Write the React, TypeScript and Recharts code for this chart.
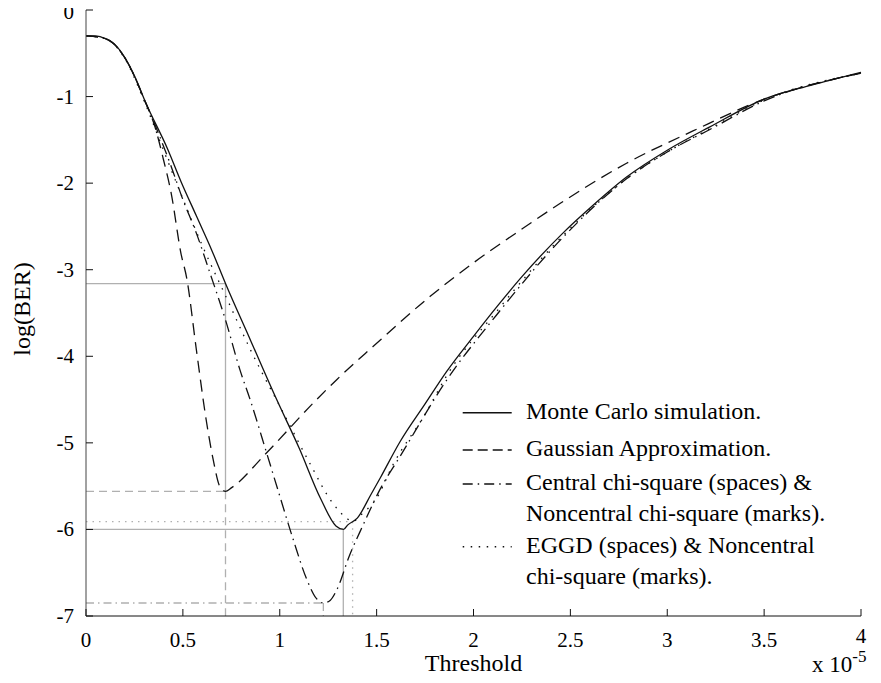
import { LineChart, Line, XAxis, YAxis, ReferenceLine, Legend } from "recharts";

const FONT = '"Liberation Serif", "Times New Roman", serif';
const INK = "#111";
const GUIDE = "#b0b0b0";

const xTicks = [0, 0.5, 1, 1.5, 2, 2.5, 3, 3.5, 4];
const yTicks = [0, -1, -2, -3, -4, -5, -6, -7];

// Monte Carlo simulation
const monteX = [0, 0.05, 0.1, 0.15, 0.2, 0.25, 0.31, 0.42, 0.49, 0.57, 0.65, 0.72, 0.85, 0.98, 1.1, 1.21, 1.29, 1.33, 1.35, 1.4, 1.47, 1.52, 1.62, 1.75, 1.86, 2.0, 2.12, 2.25, 2.46, 2.62, 2.79, 3.0, 3.22, 3.5, 3.74, 4.0];
const monteY = [-0.3, -0.3, -0.33, -0.4, -0.55, -0.76, -1.08, -1.6, -1.98, -2.38, -2.78, -3.16, -3.82, -4.48, -5.06, -5.64, -5.96, -6.0, -5.95, -5.87, -5.6, -5.4, -4.99, -4.55, -4.18, -3.77, -3.43, -3.08, -2.58, -2.25, -1.93, -1.62, -1.35, -1.03, -0.87, -0.72];

// Gaussian approximation
const gaussX = [0, 0.1, 0.2, 0.3, 0.356, 0.4, 0.44, 0.49, 0.52, 0.57, 0.62, 0.657, 0.69, 0.72, 0.75, 0.93, 1.19, 1.294, 1.48, 1.775, 2.0, 2.25, 2.45, 2.79, 3.13, 3.5, 4.0];
const gaussY = [-0.3, -0.33, -0.55, -1.03, -1.35, -1.73, -2.12, -2.81, -3.1, -3.93, -4.73, -5.2, -5.5, -5.56, -5.52, -5.12, -4.5, -4.27, -3.89, -3.31, -2.92, -2.53, -2.23, -1.77, -1.4, -1.03, -0.73];

// central / noncentral chi-square
const chiX = [0, 0.1, 0.2, 0.31, 0.44, 0.5, 0.57, 0.64, 0.72, 0.795, 0.85, 0.93, 0.99, 1.07, 1.14, 1.19, 1.225, 1.26, 1.294, 1.36, 1.43, 1.517, 1.62, 1.86, 2.12, 2.46, 2.79, 3.0, 3.22, 3.5, 4.0];
const chiY = [-0.3, -0.33, -0.55, -1.08, -1.81, -2.19, -2.58, -3.04, -3.58, -4.16, -4.52, -5.1, -5.54, -6.12, -6.58, -6.8, -6.85, -6.82, -6.7, -6.3, -5.95, -5.54, -5.16, -4.28, -3.52, -2.63, -1.95, -1.64, -1.38, -1.05, -0.73];

// EGGD / noncentral chi-square
const eggdX = [0, 0.1, 0.2, 0.3, 0.4, 0.5, 0.6, 0.72, 0.85, 1.02, 1.156, 1.268, 1.345, 1.376, 1.42, 1.5, 1.585, 1.75, 1.86, 2.12, 2.46, 2.79, 3.0, 3.22, 3.5, 4.0];
const eggdY = [-0.3, -0.33, -0.56, -1.05, -1.62, -2.18, -2.72, -3.3, -3.93, -4.66, -5.24, -5.68, -5.87, -5.91, -5.83, -5.64, -5.25, -4.67, -4.23, -3.48, -2.61, -1.95, -1.64, -1.37, -1.04, -0.73];

// grey guides: optimum threshold / minimum log(BER) of each curve
const guideX = [0.72, 1.328, 0.72, 1.225, 1.376];
const guideY = [-3.16, -6.0, -5.56, -6.85, -5.91];
const guideFloor = [-5.56, -7, -7, -7, -7];
const guideDash = [undefined, undefined, "8 5", "8 4 1.5 4", "1.5 5"];

const legendLines = [
  ["Monte Carlo simulation."],
  ["Gaussian Approximation."],
  ["Central chi-square (spaces) &", "Noncentral chi-square (marks)."],
  ["EGGD (spaces) & Noncentral", "chi-square (marks)."],
];
const curveDash = [undefined, "12 7", "12 5 1.5 5", "1.5 7"];
const legendDash = [undefined, "10 5", "10 5 1.5 5", "1.5 6.5"];

const zip = (xs: number[], ys: number[]) => xs.map((x, i) => ({ x, y: ys[i] }));

const series = [zip(monteX, monteY), zip(gaussX, gaussY), zip(chiX, chiY), zip(eggdX, eggdY)];

const BottomTick = (props: any) => {
  const { x, y, payload } = props;
  const lift = payload.value === 4 ? 4 : 0;
  return (
    <g>
      <line x1={x} y1={y} x2={x} y2={y - 7} stroke={INK} />
      <text x={x} y={y + 31 - lift} textAnchor="middle" fontSize={21} fontFamily={FONT} fill="#000">
        {payload.value}
      </text>
    </g>
  );
};

const TopTick = (props: any) => {
  const { x, y } = props;
  return <line x1={x} y1={y} x2={x} y2={y + 7} stroke={INK} />;
};

const LeftTick = (props: any) => {
  const { x, y, payload } = props;
  // keep the top label inside the picture
  const drop = payload.value === 0 ? 2 : 0;
  return (
    <g>
      <line x1={x} y1={y} x2={x + 7} y2={y} stroke={INK} />
      <text x={x - 12} y={y + 7 + drop} textAnchor="end" fontSize={21} fontFamily={FONT} fill="#000">
        {payload.value}
      </text>
    </g>
  );
};

const RightTick = (props: any) => {
  const { x, y } = props;
  return <line x1={x} y1={y} x2={x - 7} y2={y} stroke={INK} />;
};

const LegendBox = () => {
  const lineY = [17.7, 55, 89, 151.7];
  return (
    <svg width={420} height={200} style={{ display: "block" }}>
      {legendLines.map((lines, i) => (
        <g key={i}>
          <line
            x1={7.7}
            x2={56.7}
            y1={lineY[i]}
            y2={lineY[i]}
            stroke={INK}
            strokeWidth={1.5}
            strokeDasharray={legendDash[i]}
          />
          {lines.map((t, j) => (
            <text key={j} x={71} y={lineY[i] + 6 + j * 31} fontSize={24} fontFamily={FONT} fill="#000">
              {t}
            </text>
          ))}
        </g>
      ))}
    </svg>
  );
};

function App() {
  return (
    <div style={{ margin: "-8px 0 -8px -8px" }}>
      <LineChart
        width={873}
        height={683}
        margin={{ top: 10, right: 12, bottom: 0, left: 0 }}
        style={{ overflow: "visible" }}
      >
        <XAxis
          dataKey="x"
          type="number"
          domain={[0, 4]}
          ticks={xTicks}
          interval={0}
          height={67}
          tickSize={0}
          tickMargin={0}
          tickLine={false}
          tick={<BottomTick />}
          axisLine={{ stroke: INK }}
          label={{
            value: "Threshold",
            content: (p: any) => {
              const { x, y, width } = p.viewBox;
              return (
                <g fontFamily={FONT} fill="#000">
                  <text x={x + width / 2} y={y + 55} textAnchor="middle" fontSize={24}>
                    Threshold
                  </text>
                  <text x={812} y={y + 56} fontSize={23}>
                    x 10
                    <tspan dy={-10} fontSize={17}>-5</tspan>
                  </text>
                </g>
              );
            },
          }}
        />
        <XAxis
          xAxisId="top"
          orientation="top"
          type="number"
          domain={[0, 4]}
          ticks={xTicks}
          interval={0}
          height={0}
          tickSize={0}
          tickMargin={0}
          tickLine={false}
          tick={<TopTick />}
          axisLine={{ stroke: INK }}
        />
        <YAxis
          type="number"
          domain={[-7, 0]}
          ticks={yTicks}
          interval={0}
          width={86}
          tickSize={0}
          tickMargin={0}
          tickLine={false}
          tick={<LeftTick />}
          axisLine={{ stroke: "#444" }}
          label={{
            value: "log(BER)",
            content: (p: any) => {
              const { y, height } = p.viewBox;
              const cy = y + height / 2 - 4;
              return (
                <text
                  x={30}
                  y={cy}
                  transform={`rotate(-90 30 ${cy})`}
                  textAnchor="middle"
                  fontSize={24}
                  fontFamily={FONT}
                  fill="#000"
                >
                  log(BER)
                </text>
              );
            },
          }}
        />
        <YAxis
          yAxisId="right"
          orientation="right"
          type="number"
          domain={[-7, 0]}
          ticks={yTicks}
          interval={0}
          width={0}
          tickSize={0}
          tickMargin={0}
          tickLine={false}
          tick={<RightTick />}
          axisLine={{ stroke: INK }}
        />

        {guideX.map((gx, i) => (
          <ReferenceLine
            key={`h${i}`}
            segment={[
              { x: 0, y: guideY[i] },
              { x: gx, y: guideY[i] },
            ]}
            stroke={GUIDE}
            strokeWidth={1.3}
            strokeDasharray={guideDash[i]}
          />
        ))}
        {guideX.map((gx, i) => (
          <ReferenceLine
            key={`v${i}`}
            segment={[
              { x: gx, y: guideY[i] },
              { x: gx, y: guideFloor[i] },
            ]}
            stroke={GUIDE}
            strokeWidth={1.3}
            strokeDasharray={guideDash[i]}
          />
        ))}

        {series.map((data, i) => (
          <Line
            key={i}
            data={data}
            dataKey="y"
            name={legendLines[i].join(" ")}
            type="monotone"
            stroke={INK}
            strokeWidth={1.3}
            strokeDasharray={curveDash[i]}
            dot={false}
            activeDot={false}
            isAnimationActive={false}
          />
        ))}

        <Legend
          layout="horizontal"
          verticalAlign="middle"
          align="center"
          content={<LegendBox />}
          wrapperStyle={{ left: 455, top: 395, width: 420, height: 200 }}
        />
      </LineChart>
    </div>
  );
}

export default App;
